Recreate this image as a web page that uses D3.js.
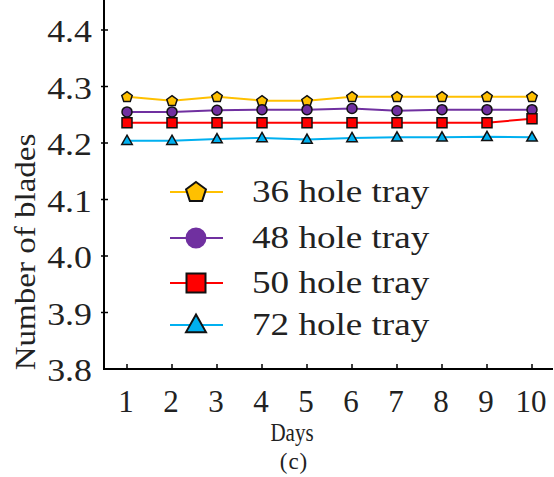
<!DOCTYPE html>
<html>
<head>
<meta charset="utf-8">
<script src="https://cdn.jsdelivr.net/npm/d3@7"></script>
<style>
  body { margin: 0; background: #fff; }
  svg { display: block; }
</style>
</head>
<body>
<svg width="554" height="477"></svg>
<script>
var days = [1, 2, 3, 4, 5, 6, 7, 8, 9, 10];
var yTicks = [3.8, 3.9, 4.0, 4.1, 4.2, 4.3, 4.4];
var tray36 = [4.282, 4.275, 4.282, 4.275, 4.275, 4.282, 4.282, 4.282, 4.282, 4.282];
var tray48 = [4.255, 4.255, 4.258, 4.259, 4.259, 4.261, 4.257, 4.259, 4.259, 4.259];
var tray50 = [4.236, 4.236, 4.236, 4.236, 4.236, 4.236, 4.236, 4.236, 4.236, 4.243];
var tray72 = [4.204, 4.204, 4.207, 4.209, 4.206, 4.209, 4.210, 4.210, 4.211, 4.210];
var names = ["36 hole tray", "48 hole tray", "50 hole tray", "72 hole tray"];

var series = [
  {name: names[0], values: tray36, color: "#FFC000", shape: "pentagon"},
  {name: names[1], values: tray48, color: "#7030A0", shape: "circle"},
  {name: names[2], values: tray50, color: "#FF0000", shape: "square"},
  {name: names[3], values: tray72, color: "#00B0F0", shape: "triangle"}
];

var svg = d3.select("svg"),
    left = 104, bottom = 369, top = 4, right = 553;

var x = d3.scaleLinear().domain([1, 10]).range([127, 532]);
var y = d3.scaleLinear().domain([3.8, 4.4]).range([bottom, 30]);

var serif = "Liberation Serif";

function symbolPath(shape, r) {
  if (shape == "circle") return d3.symbol(d3.symbolCircle, Math.PI * r * r)();
  if (shape == "square") return d3.symbol(d3.symbolSquare, 4 * r * r)();
  if (shape == "triangle") {
    return "M0," + (-r * 1.1) + "L" + (r * 1.05) + "," + (r * 0.75) + "L" + (-r * 1.05) + "," + (r * 0.75) + "Z";
  }
  // pentagon
  var pts = [];
  for (var i = 0; i < 5; i++) {
    var a = -Math.PI / 2 + i * 2 * Math.PI / 5;
    pts.push([r * 1.1 * Math.cos(a), r * 1.1 * Math.sin(a) + 0.5]);
  }
  return "M" + pts.join("L") + "Z";
}

// axes
svg.append("line").attr("x1", left).attr("x2", left).attr("y1", top).attr("y2", bottom)
  .attr("stroke", "#000").attr("stroke-width", 2);
svg.append("line").attr("x1", left - 1).attr("x2", right).attr("y1", bottom).attr("y2", bottom)
  .attr("stroke", "#000").attr("stroke-width", 2);

svg.selectAll(".ytick").data(yTicks.slice(1)).enter().append("line")
  .attr("x1", left - 3).attr("x2", left + 4)
  .attr("y1", function(d) { return y(d); }).attr("y2", function(d) { return y(d); })
  .attr("stroke", "#000").attr("stroke-width", 1.5);

// tick labels are a little wider than plain Times in the picture
svg.selectAll(".ylab").data(yTicks).enter().append("text")
  .attr("font-family", serif)
  .attr("transform", function(d) { return "translate(" + (left - 12) + "," + (y(d) + 12) + ") scale(1.12,1)"; })
  .attr("text-anchor", "end")
  .attr("font-size", 32).attr("fill", "#222")
  .text(function(d) { return d.toFixed(1); });

svg.selectAll(".xtick").data(days).enter().append("line")
  .attr("x1", function(d) { return x(d); }).attr("x2", function(d) { return x(d); })
  .attr("y1", bottom).attr("y2", bottom - 5)
  .attr("stroke", "#000").attr("stroke-width", 1.5);

svg.selectAll(".xlab").data(days).enter().append("text")
  .attr("font-family", serif)
  .attr("x", function(d) { return x(d) - 1; }).attr("y", 412)
  .attr("text-anchor", "middle")
  .attr("font-size", 31).attr("fill", "#222")
  .text(function(d) { return d; });

svg.append("text")
  .attr("font-family", serif)
  .attr("transform", "translate(35,252) rotate(-90) scale(1.14,1)")
  .attr("text-anchor", "middle")
  .attr("font-size", 29).attr("fill", "#222")
  .text("Number of blades");

svg.append("text").attr("font-family", serif)
  .attr("transform", "translate(292,441) scale(1,1.15)")
  .attr("text-anchor", "middle")
  .attr("font-size", 21).attr("fill", "#222")
  .text("Days");

svg.append("text").attr("x", 294).attr("y", 469).attr("text-anchor", "middle")
  .attr("font-family", serif).attr("font-size", 23).attr("letter-spacing", 1).attr("fill", "#222")
  .text("(c)");

// lines and markers
var line = d3.line()
  .x(function(d, i) { return x(days[i]); })
  .y(function(d) { return y(d); });

series.forEach(function(s) {
  svg.append("path").attr("d", line(s.values))
    .attr("fill", "none").attr("stroke", s.color).attr("stroke-width", 2);
});
series.forEach(function(s) {
  svg.selectAll(null).data(s.values).enter().append("path")
    .attr("transform", function(d, i) { return "translate(" + x(days[i]) + "," + y(d) + ")"; })
    .attr("d", symbolPath(s.shape, 5))
    .attr("fill", s.color).attr("stroke", "#111").attr("stroke-width", 1.5);
});

// legend
var legendY = [192, 238, 283, 325];
var lg = svg.selectAll(".leg").data(series).enter().append("g")
  .attr("transform", function(d, i) { return "translate(0," + legendY[i] + ")"; });
lg.append("line").attr("x1", 170).attr("x2", 223).attr("y1", 0).attr("y2", 0)
  .attr("stroke", function(d) { return d.color; }).attr("stroke-width", 2);
lg.append("path").attr("transform", "translate(196,0)")
  .attr("d", function(d) { return symbolPath(d.shape, 9.5); })
  .attr("fill", function(d) { return d.color; })
  .attr("stroke", function(d) { return d.shape == "circle" ? d.color : "#111"; })
  .attr("stroke-width", 2);
lg.append("text").attr("font-family", serif)
  .attr("transform", "translate(252,10) scale(1.16,1)")
  .attr("font-size", 32).attr("fill", "#222")
  .text(function(d) { return d.name; });
</script>
</body>
</html>
